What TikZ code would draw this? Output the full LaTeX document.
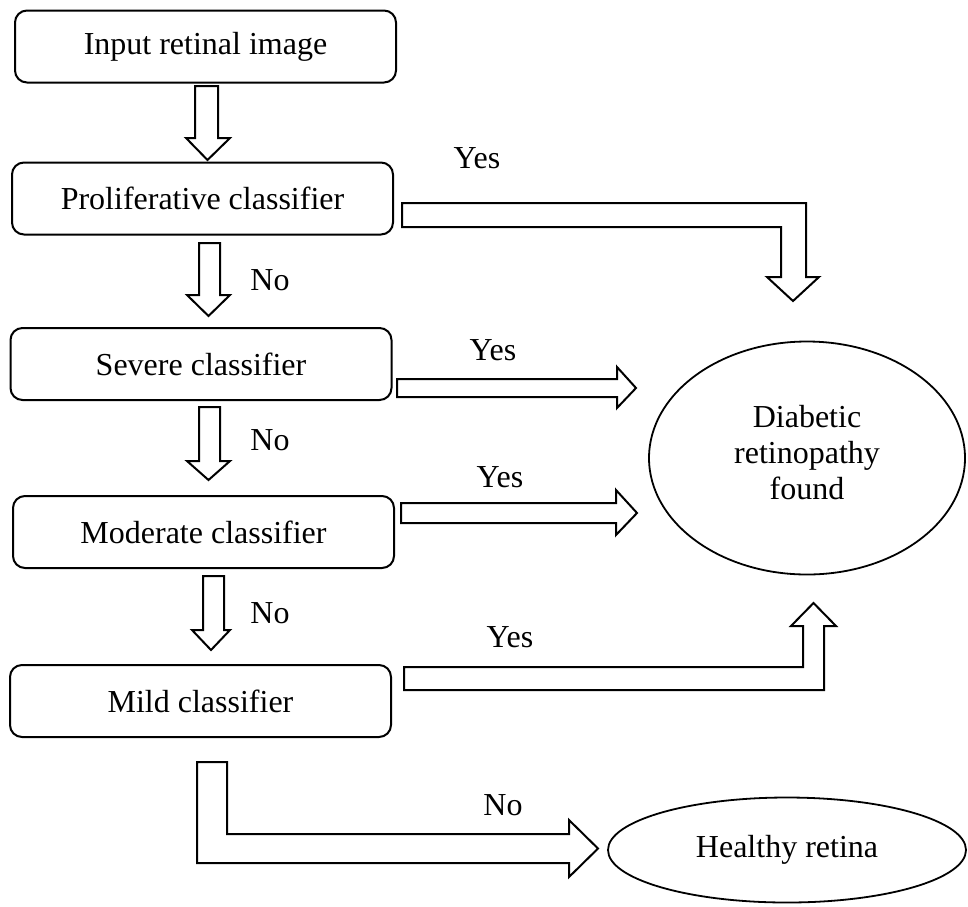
\documentclass[tikz,border=0pt]{standalone}
\usepackage{fontspec}
\setmainfont{Liberation Serif}
\usepackage{tikz}
\usetikzlibrary{shapes.geometric, positioning, calc}

\begin{document}
\begin{tikzpicture}[x=0.5pt, y=-0.5pt,
    font=\fontsize{16}{18}\selectfont,
    classbox/.style={draw, line width=1pt, rounded corners=6pt, minimum width=190.5pt, minimum height=36pt, inner sep=0pt},
    outcome/.style={draw, ellipse, line width=0.9pt, inner sep=0pt, align=center},
    blk/.style={draw, line width=1pt, line join=miter, fill=white},
    lbl/.style={inner sep=0pt}]
    \useasboundingbox (0,0) rectangle (968,906);

    % classifier chain
    \node[classbox] (input) at (205.5,46.5) {Input retinal image};
    \node[classbox] (prolif) at (202.5,198.5) {Proliferative classifier};
    \node[classbox] (severe) at (201,364) {Severe classifier};
    \node[classbox] (moderate) at (203.5,532) {Moderate classifier};
    \node[classbox] (mild) at (200.5,701) {Mild classifier};

    % outcomes
    \node[outcome, minimum width=158pt, minimum height=116.5pt] (dr) at (807,458) {Diabetic\\retinopathy\\found\rule[-6pt]{0pt}{0pt}};
    \node[outcome, minimum width=179pt, minimum height=52.5pt] (healthy) at (787,850) {Healthy retina\rule[-4pt]{0pt}{0pt}};

    % down arrows (No)
    \draw[blk] (195,86) -- (218,86) -- (218,138) -- (230,138) -- (207.5,160) -- (186,138) -- (195,138) -- cycle;
    \draw[blk] (199,243) -- (220,243) -- (220,295) -- (230,295) -- (208.5,316) -- (187,295) -- (199,295) -- cycle;
    \draw[blk] (199,407) -- (220,407) -- (220,461) -- (230,461) -- (208.5,480) -- (187,461) -- (199,461) -- cycle;
    \draw[blk] (203,576) -- (224,576) -- (224,630) -- (230,630) -- (211,650) -- (192,630) -- (203,630) -- cycle;

    % right arrows (Yes)
    \draw[blk] (402,203) -- (806,203) -- (806,277) -- (819,277) -- (793,301) -- (767,277) -- (781,277) -- (781,227) -- (402,227) -- cycle;
    \draw[blk] (397,379) -- (617,379) -- (617,367) -- (636,388) -- (617,408) -- (617,397) -- (397,397) -- cycle;
    \draw[blk] (401,503) -- (616,503) -- (616,490) -- (637,513) -- (616,535) -- (616,523) -- (401,523) -- cycle;
    \draw[blk] (404,690) -- (824,690) -- (824,626) -- (836,626) -- (813.5,603) -- (791,626) -- (803,626) -- (803,667) -- (404,667) -- cycle;

    % last No
    \draw[blk] (197,762) -- (227,762) -- (227,834) -- (569,834) -- (569,820) -- (598,848.5) -- (569,877) -- (569,863) -- (197,863) -- cycle;

    % labels
    \node[lbl] (y1) at (477,158) {Yes};
    \node[lbl] (n1) at (270,280) {No};
    \node[lbl] (y2) at (493,350) {Yes};
    \node[lbl] (n2) at (270,440) {No};
    \node[lbl] (y3) at (500,477) {Yes};
    \node[lbl] (n3) at (270,613) {No};
    \node[lbl] (y4) at (510,637) {Yes};
    \node[lbl] (n4) at (503,805) {No};
\end{tikzpicture}
\end{document}
